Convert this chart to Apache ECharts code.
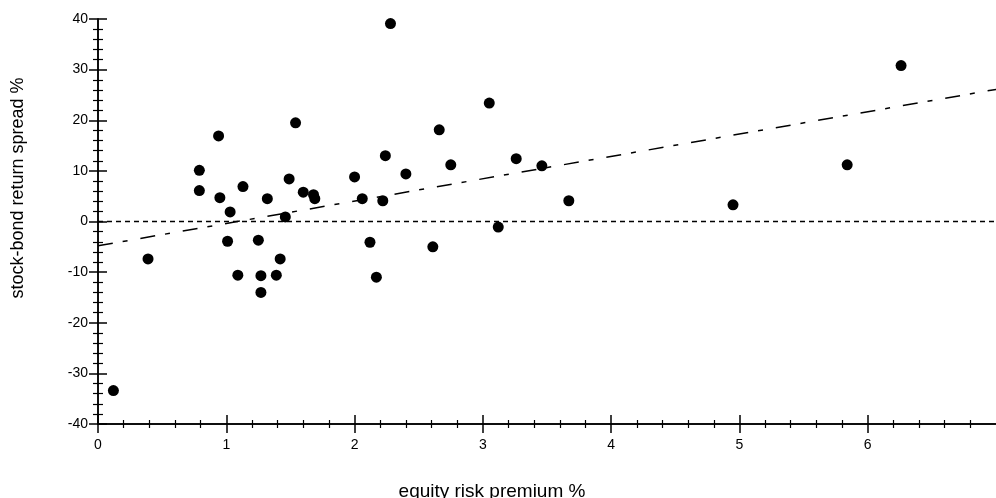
<!DOCTYPE html>
<html>
<head>
<meta charset="utf-8">
<script src="https://cdn.jsdelivr.net/npm/echarts@6/dist/echarts.min.js"></script>
<style>
html,body{margin:0;padding:0;background:#fff;}
#chart{width:996px;height:498px;}
</style>
</head>
<body>
<div id="chart"></div>
<script>
// equity risk premium % (x) and stock-bond return spread % (y)
var premium = [0.12, 0.39, 0.79, 0.79, 0.94, 0.95, 1.03, 1.01, 1.13, 1.25, 1.32, 1.42, 1.46, 1.49, 1.54, 1.60, 1.68, 1.69, 1.09, 1.27, 1.39, 1.27, 2.28, 3.05, 2.66, 2.24, 2.75, 3.26, 3.46, 2.00, 2.40, 2.06, 2.22, 3.67, 3.12, 2.12, 2.61, 2.17, 4.95, 5.84, 6.26];
var spread  = [-33.4, -7.4, 10.1, 6.1, 16.9, 4.7, 1.9, -3.9, 6.9, -3.7, 4.5, -7.4, 0.9, 8.4, 19.5, 5.8, 5.3, 4.5, -10.6, -10.7, -10.6, -14.0, 39.1, 23.4, 18.1, 13.0, 11.2, 12.4, 11.0, 8.8, 9.4, 4.5, 4.1, 4.1, -1.1, -4.1, -5.0, -11.0, 3.3, 11.2, 30.8];
// fitted trend line end points
var trendX = [0, 7];
var trendY = [-4.8, 26.1];
// zero reference line
var zeroX = [0, 7];
var zeroY = [0, 0];
var xTicks = [0, 1, 2, 3, 4, 5, 6];
var yTicks = [-40, -30, -20, -10, 0, 10, 20, 30, 40];
var xName = 'equity risk premium %';
var yName = 'stock-bond return spread %';

function pairs(a, b) { return a.map(function (v, i) { return [v, b[i]]; }); }

var FONT = 'Liberation Sans, Arial, sans-serif';
var chart = echarts.init(document.getElementById('chart'), null, {renderer: 'canvas'});

function xAx(inside, labels) {
  return {
    type: 'value', position: 'bottom', min: xTicks[0], max: 7, interval: 1,
    axisLine: {show: true, onZero: false, lineStyle: {color: '#000', width: 1.5}},
    axisTick: {show: true, inside: inside, length: 9, customValues: xTicks, lineStyle: {color: '#000', width: 1.5}},
    minorTick: {show: true, splitNumber: 5, length: 4, lineStyle: {color: '#000', width: 1.2}},
    splitLine: {show: false},
    axisLabel: {show: labels, margin: 14, color: '#000', fontSize: 14, fontFamily: FONT, customValues: xTicks}
  };
}
function yAx(inside, labels) {
  return {
    type: 'value', position: 'left', min: yTicks[0], max: yTicks[yTicks.length - 1], interval: 10,
    axisLine: {show: true, onZero: false, lineStyle: {color: '#000', width: 1.5}},
    axisTick: {show: true, inside: inside, length: 9, lineStyle: {color: '#000', width: 1.5}},
    minorTick: {show: true, splitNumber: 5, length: 5, lineStyle: {color: '#000', width: 1.2}},
    splitLine: {show: false},
    axisLabel: {show: labels, margin: 10, color: '#000', fontSize: 14, fontFamily: FONT}
  };
}

chart.setOption({
  animation: false,
  backgroundColor: '#fff',
  grid: {left: 98, top: 19, bottom: 74, width: 901, containLabel: false},
  xAxis: [xAx(false, true), xAx(true, false)],
  yAxis: [yAx(false, true), yAx(true, false)],
  graphic: [
    {type: 'text', x: 492, y: 492, style: {text: xName, align: 'center', verticalAlign: 'middle', fontSize: 19, fontFamily: FONT, fill: '#000'}},
    {type: 'text', x: 18, y: 188, rotation: Math.PI / 2, style: {text: yName, align: 'center', verticalAlign: 'middle', fontSize: 18, fontFamily: FONT, fill: '#000'}}
  ],
  series: [
    {
      type: 'line', data: pairs(zeroX, zeroY), symbol: 'none', silent: true,
      lineStyle: {color: '#000', width: 1.3, type: [5, 4]}
    },
    {
      type: 'line', data: pairs(trendX, trendY), symbol: 'none', silent: true,
      lineStyle: {color: '#000', width: 1.5, type: [15, 10, 5, 13]}
    },
    {
      type: 'scatter', data: pairs(premium, spread), symbol: 'circle', symbolSize: 11,
      itemStyle: {color: '#000', opacity: 1}
    }
  ]
});
</script>
</body>
</html>
